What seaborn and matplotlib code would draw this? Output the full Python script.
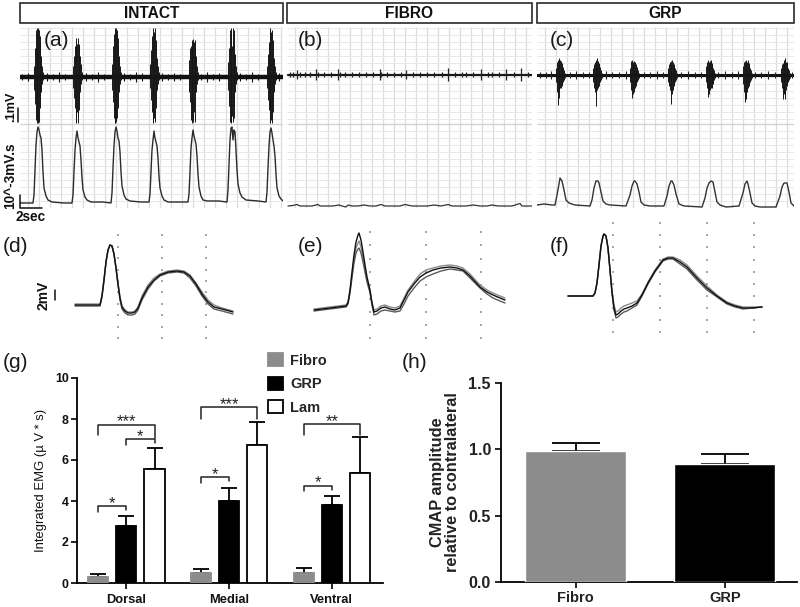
import numpy as np
import pandas as pd
import matplotlib
matplotlib.use("Agg")
import matplotlib.pyplot as plt
from matplotlib.patches import Patch, Rectangle
import seaborn as sns

# ---------- data (traces, page-pixel units) ----------
headers = ["INTACT", "FIBRO", "GRP"]
header_left = [20, 287, 537]
header_right = [283, 532, 794]

burst_offsets = [-4.5, -3.75, -3, -2.25, -1.5, -0.75, 0, 0.75, 1.5, 2.25, 3, 3.75, 4.5]

a_centers = [38, 77, 116, 154, 193, 232, 271]
a_tops = [
    [72, 66, 48, 30, 28, 34, 28, 30, 36, 44, 56, 66, 72],
    [72, 66, 56, 46, 42, 38, 44, 38, 46, 44, 56, 64, 72],
    [72, 64, 46, 34, 28, 32, 28, 30, 38, 44, 56, 66, 72],
    [72, 64, 50, 36, 40, 28, 32, 28, 40, 46, 58, 66, 72],
    [72, 60, 48, 46, 42, 40, 39, 42, 40, 46, 56, 66, 72],
    [72, 62, 48, 30, 28, 36, 46, 28, 30, 44, 54, 66, 72],
    [72, 66, 54, 42, 30, 28, 32, 30, 40, 46, 58, 66, 72],
]
a_bots = [
    [80, 90, 104, 120, 123, 118, 123, 122, 108, 100, 92, 84, 80],
    [80, 88, 98, 108, 122, 123, 112, 123, 110, 100, 92, 84, 80],
    [80, 90, 102, 118, 123, 123, 122, 118, 108, 100, 92, 84, 80],
    [80, 88, 100, 112, 122, 123, 118, 122, 108, 98, 90, 84, 80],
    [80, 92, 102, 120, 123, 114, 122, 112, 122, 100, 92, 84, 80],
    [80, 90, 106, 122, 123, 122, 116, 122, 118, 106, 92, 84, 80],
    [80, 88, 100, 110, 122, 123, 120, 123, 112, 100, 92, 84, 80],
]
c_centers = [560, 597, 634, 672, 710, 747, 785]
c_tops = [
    [72, 68, 62, 60, 58, 59, 60, 61, 63, 65, 67, 70, 73],
    [72, 68, 64, 62, 60, 62, 58, 61, 63, 65, 67, 70, 73],
    [72, 68, 61, 60, 62, 63, 61, 62, 64, 65, 67, 70, 73],
    [72, 68, 64, 62, 61, 64, 60, 62, 64, 66, 68, 70, 73],
    [72, 66, 62, 60, 62, 64, 61, 60, 63, 66, 68, 70, 73],
    [72, 66, 62, 61, 60, 63, 62, 60, 63, 65, 68, 70, 73],
    [72, 68, 64, 63, 62, 60, 58, 62, 62, 64, 68, 70, 73],
]
c_bots = [
    [78, 82, 92, 105, 98, 90, 88, 88, 86, 84, 82, 80, 78],
    [78, 82, 88, 92, 106, 96, 90, 88, 86, 84, 82, 80, 78],
    [78, 82, 90, 98, 94, 90, 92, 88, 86, 84, 82, 80, 78],
    [78, 82, 86, 90, 92, 104, 94, 90, 86, 84, 82, 80, 78],
    [78, 82, 88, 97, 92, 94, 90, 88, 88, 84, 84, 80, 78],
    [78, 84, 92, 102, 99, 96, 92, 88, 86, 84, 82, 80, 78],
    [78, 82, 88, 99, 94, 92, 99, 90, 86, 84, 82, 80, 78],
]

a_spike_x = [22, 28, 47, 53, 59, 65, 86, 92, 98, 104, 124, 130, 136, 142, 162, 168, 174, 180,
             201, 207, 213, 219, 240, 246, 252, 258, 279]
a_spike_h = [3, 4, 4, 3, 5, 3, 4, 3, 5, 3, 4, 3, 5, 4, 4, 3, 4, 3, 3, 5, 3, 4, 4, 3, 5, 3, 4]

b_spike_x = [290, 293, 297, 300, 305, 310, 316, 318, 324, 331, 338, 340, 345, 352, 359, 366,
             373, 380, 381, 387, 394, 401, 406, 413, 420, 427, 434, 442, 448, 455, 462, 466,
             473, 481, 488, 492, 499, 506, 514, 521, 528]
b_spike_h = [3, 3, 5, 3, 3, 3, 6, 3, 3, 3, 6, 3, 3, 3, 3, 3, 3, 6, 3, 3, 3, 3, 5, 3, 3, 3, 3,
             3, 7, 3, 3, 3, 3, 6, 3, 3, 3, 6, 3, 7, 3]

c_spike_x = [540, 546, 551, 570, 576, 583, 589, 606, 612, 619, 626, 644, 650, 657, 663, 681,
             688, 695, 701, 718, 725, 732, 738, 755, 761, 768, 775, 792]
c_spike_h = [3, 3, 4, 3, 4, 3, 3, 4, 3, 3, 4, 3, 3, 4, 3, 3, 4, 3, 3, 3, 4, 3, 4, 3, 3, 4, 3, 3]

a_int_x = [20, 33, 34, 35, 36, 37, 38, 39, 40, 41, 42, 43, 44, 46, 48, 52, 64,
           72, 73, 74, 75, 76, 77, 78, 79, 80, 81, 82, 83, 85, 87, 91, 103,
           111, 112, 113, 114, 115, 116, 117, 118, 119, 120, 121, 122, 124, 126, 130, 141,
           149, 150, 151, 152, 153, 154, 155, 156, 157, 158, 159, 160, 162, 164, 168, 180,
           188, 189, 190, 191, 192, 193, 194, 195, 196, 197, 198, 199, 201, 203, 207, 219,
           227, 228, 229, 230, 231, 232, 233, 234, 235, 236, 237, 238, 240, 242, 246, 258,
           266, 267, 268, 269, 270, 271, 272, 273, 274, 275, 276, 277, 279, 281, 283]
a_int_y = [203, 203, 195, 170, 145, 132, 127, 130, 135, 138, 150, 172, 188, 196, 200, 202, 203,
           203, 195, 172, 150, 138, 131, 138, 142, 146, 160, 178, 190, 197, 200, 202, 202,
           203, 193, 168, 146, 132, 127, 131, 138, 141, 152, 172, 186, 195, 199, 201, 202,
           202, 194, 172, 150, 140, 131, 138, 142, 146, 158, 176, 188, 196, 200, 202, 202,
           202, 194, 172, 148, 138, 130, 136, 140, 144, 156, 174, 187, 196, 200, 201, 201,
           202, 190, 165, 140, 128, 127, 140, 130, 132, 150, 170, 184, 193, 197, 200, 201,
           202, 192, 168, 146, 132, 128, 133, 140, 146, 156, 174, 188, 196, 199, 201]

b_int_x = [288, 293, 297, 300, 306, 312, 318, 320, 326, 333, 339, 342, 346, 348, 352, 358, 364, 370, 376, 381,
           385, 392, 400, 405, 412, 420, 427, 434, 441, 448, 452, 459, 466, 473, 480, 487, 492, 498, 504, 512, 520, 522, 528, 532]
b_int_y = [206, 205.5, 204.5, 206, 206, 206, 204.5, 206, 206, 206, 205, 206, 207, 205, 206, 206, 205, 206, 206, 204.5,
           206, 206, 206, 204.5, 206, 206, 206, 205, 206, 204.5, 206, 206, 206, 205, 206, 206, 205, 206, 206, 206, 203.5, 206, 206, 206]

c_int_x = [537, 544, 552, 555, 557, 559, 560, 562, 564, 566, 569, 575, 590, 592, 594, 596, 598, 599, 601, 603, 606, 610,
           626, 630, 632, 634, 635, 637, 639, 641, 644, 650, 664, 667, 669, 671, 672, 674, 676, 679, 684,
           702, 705, 707, 709, 711, 713, 715, 717, 720, 726, 739, 743, 745, 747, 748, 750, 752, 755, 760,
           776, 780, 782, 784, 787, 789, 791, 794]
c_int_y = [205, 204, 205, 205, 195, 184, 178, 181, 190, 200, 203, 205, 206, 200, 188, 181, 181, 183, 192, 201, 204, 205,
           206, 195, 186, 181, 181, 184, 192, 202, 205, 206, 206, 196, 186, 181, 181, 185, 194, 204, 206,
           207, 198, 188, 183, 181, 182, 192, 202, 205, 207, 206, 193, 184, 181, 184, 193, 203, 206, 207,
           207, 196, 187, 183, 183, 192, 203, 206]

d_x = [75, 100, 102, 104, 106, 108, 110, 112, 114, 116, 118, 120, 122, 125, 128, 132, 135, 138, 142, 148,
       154, 160, 168, 177, 184, 190, 196, 202, 208, 214, 222, 233]
d_y1 = [305, 305, 296, 280, 262, 250, 245, 246, 254, 268, 284, 298, 307, 311, 313, 313, 312, 308, 298, 287,
        280, 275, 272, 271, 272, 276, 284, 294, 302, 307, 309, 312]
d_y2 = [306, 306, 297, 280, 262, 250, 245, 246, 254, 268, 285, 300, 309, 313, 315, 315, 314, 310, 300, 289,
        281, 276, 273, 272, 273, 278, 286, 296, 304, 309, 311, 314]
d_y3 = [304, 304, 295, 280, 262, 250, 245, 246, 254, 268, 283, 297, 306, 310, 312, 312, 311, 307, 296, 285,
        278, 274, 271, 270, 271, 275, 283, 292, 300, 305, 308, 311]

e_x = [314, 330, 346, 348, 350, 352, 354, 356, 358, 359, 361, 363, 365, 367, 370, 372, 374, 377, 381, 385,
       390, 395, 400, 404, 408, 414, 420, 426, 433, 441, 450, 457, 463, 470, 480, 487, 493, 500, 505]
e_y1 = [310, 308, 306, 303, 290, 272, 255, 242, 235, 233, 240, 252, 265, 277, 290, 303, 312, 311, 308, 307,
        309, 310, 308, 300, 292, 284, 277, 273, 270, 268, 267, 268, 270, 276, 287, 292, 295, 298, 300]
e_y2 = [311, 309, 307, 304, 293, 278, 263, 253, 249, 248, 253, 262, 272, 282, 293, 305, 315, 314, 311, 310,
        311, 312, 311, 304, 296, 288, 281, 277, 274, 271, 269, 270, 271, 278, 288, 294, 298, 301, 303]
e_y3 = [309, 307, 305, 302, 291, 275, 259, 248, 243, 241, 247, 258, 269, 280, 291, 303, 310, 309, 306, 305,
        307, 308, 306, 298, 290, 282, 274, 270, 268, 266, 265, 266, 268, 274, 285, 290, 293, 296, 298]

f_x = [568, 593, 595, 597, 599, 601, 603, 604, 606, 608, 610, 612, 614, 616, 618, 621, 624, 627, 632, 637,
       642, 648, 655, 663, 668, 673, 680, 687, 697, 707, 717, 727, 735, 743, 752, 762]
f_y1 = [296, 296, 293, 283, 265, 246, 236, 234, 236, 248, 270, 292, 308, 315, 314, 311, 309, 308, 306, 303,
        295, 283, 271, 260, 258, 258, 262, 267, 278, 288, 296, 303, 306, 308, 308, 307]
f_y2 = [296, 296, 293, 283, 265, 246, 236, 234, 236, 248, 270, 293, 310, 318, 317, 314, 312, 311, 308, 305,
        296, 284, 272, 261, 259, 259, 264, 269, 280, 290, 297, 304, 307, 309, 308, 307]
f_y3 = [296, 296, 293, 283, 265, 246, 236, 234, 236, 248, 270, 291, 305, 312, 311, 308, 306, 305, 303, 301,
        294, 282, 270, 259, 257, 257, 260, 265, 276, 286, 295, 302, 305, 307, 307, 307]

d_dot_x = [118, 162, 206]
d_dot_y = [235, 247, 258, 270, 281, 292, 304, 315, 327, 338]
e_dot_x = [370, 426, 481]
e_dot_y = [232, 245, 259, 272, 285, 299, 312, 325, 338]
f_dot_x = [613, 660, 707, 754]
f_dot_y = [223, 235, 247, 260, 272, 284, 296, 308, 320, 332]

regions = ["Dorsal", "Medial", "Ventral"]
groups = ["Fibro", "GRP", "Lam"]
emg_fibro = [0.3, 0.5, 0.5]
emg_grp = [2.8, 4.0, 3.8]
emg_lam = [5.55, 6.75, 5.35]
emg_fibro_top = [0.45, 0.68, 0.72]
emg_grp_top = [3.25, 4.65, 4.25]
emg_lam_top = [6.6, 7.85, 7.1]

# region, from group, to group, bracket level, left foot, right foot, stars
br_region = [0, 0, 0, 1, 1, 2, 2]
br_from = [0, 1, 0, 0, 0, 0, 0]
br_to = [2, 2, 1, 2, 1, 2, 1]
br_level = [7.72, 7.02, 3.76, 8.58, 5.15, 7.75, 4.75]
br_foot_l = [7.2, 6.75, 3.45, 8.0, 4.88, 7.2, 4.47]
br_foot_r = [7.07, 6.83, 3.58, 8.0, 4.96, 7.2, 4.55]
br_stars = ["***", "*", "*", "***", "*", "**", "*"]

cmap_groups = ["Fibro", "GRP"]
cmap_vals = [0.985, 0.89]
cmap_tops = [1.05, 0.965]

# ---------- style ----------
sns.set_theme(style="white")
plt.rcParams["font.family"] = ["Liberation Sans", "DejaVu Sans"]
W, H = 800, 607
GREY = "#8c8c8c"
INK = "#111111"
fig = plt.figure(figsize=(W / 100, H / 100), dpi=100, facecolor="white")


def px_axes(l, t, r, b, z=1):
    ax = fig.add_axes([l / W, 1 - b / H, (r - l) / W, (b - t) / H], zorder=z)
    ax.patch.set_alpha(0)
    return ax


def window(ax, l, t, r, b):
    ax.set_xlim(l, r)
    ax.set_ylim(b, t)
    ax.set_axis_off()


def line(ax, x, y, color="#222222", lw=0.9):
    sns.lineplot(x=x, y=y, ax=ax, estimator=None, sort=False, color=color, lw=lw, legend=False)


page = px_axes(0, 0, W, H, z=5)
window(page, 0, 0, W, H)

for name, l, r in zip(headers, header_left, header_right):
    page.add_patch(Rectangle((l, 3), r - l, 20, fill=False, ec="#2a2a2a", lw=1.2))
    page.text((l + r) / 2, 13.5, name, ha="center", va="center", fontsize=11.2, fontweight="bold", color=INK)


def recording_grid(ax, l, r):
    ax.vlines(np.arange(l + 8, r, 11), 27, 208, color="#dddddd", lw=0.9, zorder=0)
    ax.hlines(np.arange(28, 120, 7), l, r, color="#e8e8e8", lw=0.7, zorder=0)
    ax.hlines(np.arange(131, 208, 7), l, r, color="#e8e8e8", lw=0.7, zorder=0)
    ax.hlines(124, l, r, color="#d4d4d4", lw=1.0, zorder=0)


def bursts(ax, centers, tops, bots):
    for c, ts, bs in zip(centers, tops, bots):
        xs = [c + o for o in burst_offsets]
        ax.vlines(xs, ts, bs, color="#161616", lw=0.7, zorder=3)


# (a) Intact
ax_a = px_axes(20, 27, 283, 208)
window(ax_a, 20, 27, 283, 208)
recording_grid(ax_a, 20, 283)
line(ax_a, [20, 283], [76.5, 76.5], color="#111111", lw=3.2)
ax_a.vlines(a_spike_x, [76.5 - h for h in a_spike_h], [76.5 + h for h in a_spike_h], color="#111111", lw=0.8)
bursts(ax_a, a_centers, a_tops, a_bots)
line(ax_a, a_int_x, a_int_y, color="#2b2b2b", lw=1.0)
window(ax_a, 20, 27, 283, 208)

# (b) Fibro
ax_b = px_axes(287, 27, 532, 208)
window(ax_b, 287, 27, 532, 208)
recording_grid(ax_b, 287, 532)
line(ax_b, [288, 532], [75, 75], color="#161616", lw=1.6)
ax_b.vlines(b_spike_x, [75 - h for h in b_spike_h], [75 + h * 0.8 for h in b_spike_h], color="#222222", lw=0.9)
line(ax_b, b_int_x, b_int_y, color="#333333", lw=0.9)
window(ax_b, 287, 27, 532, 208)

# (c) GRP
ax_c = px_axes(537, 27, 794, 208)
window(ax_c, 537, 27, 794, 208)
recording_grid(ax_c, 537, 794)
line(ax_c, [537, 794], [75, 75], color="#111111", lw=2.2)
ax_c.vlines(c_spike_x, [75 - h for h in c_spike_h], [75 + h for h in c_spike_h], color="#222222", lw=0.8)
bursts(ax_c, c_centers, c_tops, c_bots)
line(ax_c, c_int_x, c_int_y, color="#333333", lw=1.0)
window(ax_c, 537, 27, 794, 208)


# (d, e, f) waveforms
def waveform(l, r, xs, ys, dot_x, dot_y):
    ax = px_axes(l, 215, r, 345)
    window(ax, l, 215, r, 345)
    gx, gy = np.meshgrid(dot_x, dot_y)
    ax.scatter(gx.ravel(), gy.ravel(), s=1.3, marker="s", color="#a8a8a8", lw=0, zorder=1)
    for y, c in zip(ys, ["#8a8a8a", "#5a5a5a", "#111111"]):
        line(ax, xs, y, color=c, lw=1.0)
    window(ax, l, 215, r, 345)


waveform(60, 250, d_x, [d_y3, d_y2, d_y1], d_dot_x, d_dot_y)
waveform(300, 520, e_x, [e_y3, e_y2, e_y1], e_dot_x, e_dot_y)
waveform(555, 775, f_x, [f_y3, f_y2, f_y1], f_dot_x, f_dot_y)

# panel letters
letters = [("(a)", 44, 41), ("(b)", 298, 40), ("(c)", 550, 41), ("(d)", 3, 246), ("(e)", 298, 246),
           ("(f)", 550, 246), ("(g)", 3, 363), ("(h)", 402, 363)]
for s, x, y in letters:
    page.text(x, y, s, fontsize=15, ha="left", va="center", color="#1a1a1a")

# scale bars and their labels
page.text(11, 107, ".1mV", rotation=90, fontsize=9.2, fontweight="bold", ha="center", va="center", color=INK)
page.plot([17.5, 17.5], [108, 122], color=INK, lw=1.1)
page.text(10.5, 176, "10^-3mV.s", rotation=90, fontsize=9.8, fontweight="bold", ha="center", va="center", color=INK)
page.plot([20, 20, 42], [195, 208, 208], color=INK, lw=1.1)
page.text(31, 217, "2sec", fontsize=9.8, fontweight="bold", ha="center", va="center", color=INK)
page.text(43, 295, "2mV", rotation=90, fontsize=10, fontweight="bold", ha="center", va="center", color=INK)
page.plot([55, 55], [290, 300], color=INK, lw=1.1)

# (g) integrated EMG
emg = pd.DataFrame({
    "region": regions * 3,
    "group": [g for g in groups for _ in regions],
    "value": emg_fibro + emg_grp + emg_lam,
})
ax_g = px_axes(77, 378, 383, 583, z=2)
sns.barplot(data=emg, x="region", y="value", hue="group", order=regions, hue_order=groups,
            palette=[GREY, "black", "white"], width=0.825, gap=0.29, edgecolor="black",
            linewidth=1.3, legend=False, ax=ax_g, saturation=1, zorder=3)
for p in ax_g.containers[0]:
    p.set_edgecolor(GREY)
bar_x = [[p.get_x() + p.get_width() / 2 for p in cont] for cont in ax_g.containers]
for xs, vals, tops in zip(bar_x, [emg_fibro, emg_grp, emg_lam], [emg_fibro_top, emg_grp_top, emg_lam_top]):
    up = [t - v for t, v in zip(tops, vals)]
    ax_g.errorbar(xs, vals, yerr=[[0] * len(vals), up], fmt="none", ecolor="black", elinewidth=1.3,
                  capsize=5.5, capthick=1.3, zorder=2)
for reg, a, b, lev, fl, fr, st in zip(br_region, br_from, br_to, br_level, br_foot_l, br_foot_r, br_stars):
    xa, xb = bar_x[a][reg], bar_x[b][reg]
    ax_g.plot([xa, xa, xb, xb], [fl, lev, lev, fr], color="#222222", lw=1.1, clip_on=False, zorder=4)
    ax_g.text((xa + xb) / 2, lev + 0.13, st, ha="center", va="center", fontsize=12, color="#222222")
ax_g.set_xlim(-0.479, 2.498)
ax_g.set_ylim(0, 10)
ax_g.set_yticks([0, 2, 4, 6, 8, 10])
ax_g.set_xlabel("")
ax_g.set_ylabel("Integrated EMG (\u00b5 V * s)", fontsize=9.4, labelpad=6, color=INK)
ax_g.tick_params(axis="both", length=4, width=1.2, color="black", left=True, bottom=True)
ax_g.tick_params(axis="y", labelsize=8.9, pad=2)
ax_g.tick_params(axis="x", labelsize=9.3, pad=4)
for t in ax_g.get_xticklabels() + ax_g.get_yticklabels():
    t.set_fontweight("bold")
    t.set_color(INK)
sns.despine(ax=ax_g)
for side in ("left", "bottom"):
    ax_g.spines[side].set_linewidth(1.3)
    ax_g.spines[side].set_color("black")

legend_handles = [Patch(facecolor=GREY, edgecolor=GREY, lw=1.3), Patch(facecolor="black", edgecolor="black", lw=1.3),
                  Patch(facecolor="white", edgecolor="black", lw=1.3)]
leg = ax_g.legend(legend_handles, groups, frameon=False, loc="upper left",
                  bbox_to_anchor=((268 - 77) / 306, (583 - 353) / 205), borderpad=0, borderaxespad=0,
                  handlelength=1.03, handleheight=1.0, labelspacing=0.63, handletextpad=0.5,
                  prop={"size": 10.5, "weight": "bold"})

# (h) CMAP amplitude
cmap = pd.DataFrame({"group": cmap_groups, "value": cmap_vals})
ax_h = px_axes(500.7, 383.3, 797, 581.7, z=2)
sns.barplot(data=cmap, x="group", y="value", hue="group", palette=[GREY, "black"], width=0.68,
            legend=False, ax=ax_h, saturation=1, zorder=3)
ax_h.errorbar([0, 1], cmap_vals, yerr=[[0, 0], [t - v for t, v in zip(cmap_tops, cmap_vals)]],
              fmt="none", ecolor="black", elinewidth=1.3, capsize=17.5, capthick=1.3, zorder=2)
ax_h.set_xlim(-0.504, 1.485)
ax_h.set_ylim(0, 1.5)
ax_h.set_yticks([0, 0.5, 1.0, 1.5])
ax_h.set_yticklabels(["0.0", "0.5", "1.0", "1.5"])
ax_h.set_xlabel("")
ax_h.set_ylabel("CMAP amplitude\nrelative to contralateral", fontsize=11.8, fontweight="bold",
                labelpad=6, color="#222222", linespacing=1.05)
ax_h.tick_params(axis="both", length=4, width=1.2, color="black", left=True, bottom=True, labelsize=10.5, pad=3)
ax_h.tick_params(axis="y", labelsize=11.5)
for t in ax_h.get_xticklabels() + ax_h.get_yticklabels():
    t.set_fontweight("bold")
    t.set_color("#222222")
sns.despine(ax=ax_h)
for side in ("left", "bottom"):
    ax_h.spines[side].set_linewidth(1.3)
    ax_h.spines[side].set_color("black")

fig.savefig("out.png", dpi=100, facecolor="white")
